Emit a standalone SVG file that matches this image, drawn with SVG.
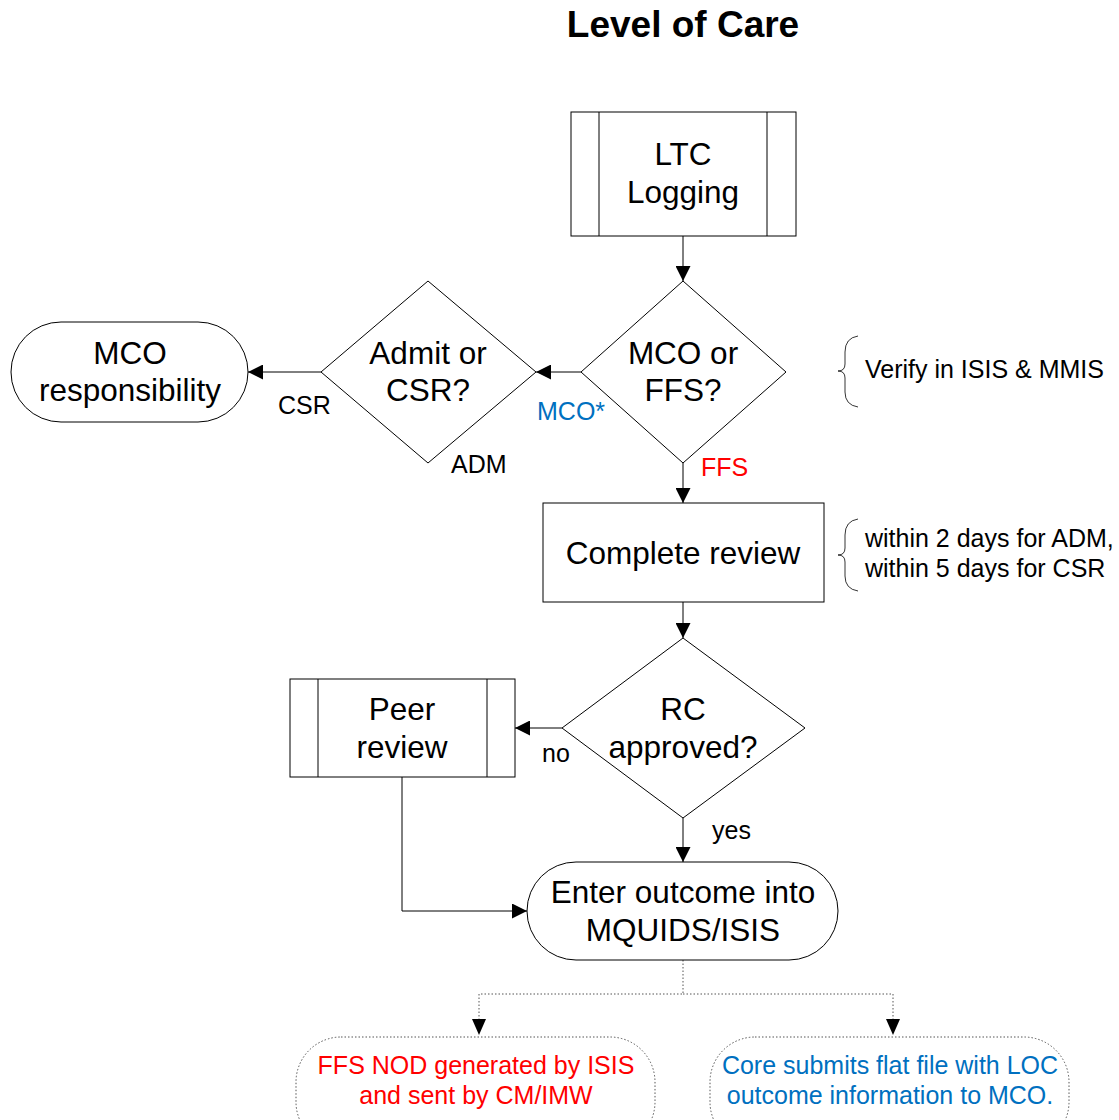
<svg xmlns="http://www.w3.org/2000/svg" width="1119" height="1120" viewBox="0 0 1119 1120">
<defs>
<marker id="ah" viewBox="0 0 15 15" refX="15" refY="7.5" markerWidth="15" markerHeight="15" markerUnits="userSpaceOnUse" orient="auto">
<path d="M0,0 L15,7.5 L0,15 Z" fill="#000"/>
</marker>
</defs>
<style>
.s{fill:#fff;stroke:#000;stroke-width:1}
.d{fill:#fff;stroke:#555;stroke-width:1;stroke-dasharray:1.5 2}
.t{font-family:"Liberation Sans",Arial,sans-serif;font-size:31.5px;fill:#000;text-anchor:middle}
.l{font-family:"Liberation Sans",Arial,sans-serif;font-size:25px;fill:#000}
.c{fill:none;stroke:#000;stroke-width:1}
.cd{fill:none;stroke:#555;stroke-width:1;stroke-dasharray:1.5 2}
.br{fill:none;stroke:#000;stroke-width:0.8}
</style>
<rect width="1119" height="1120" fill="#fff"/>
<text x="683" y="37" font-family="Liberation Sans,Arial,sans-serif" font-size="37" font-weight="bold" text-anchor="middle">Level of Care</text>

<g id="connectors">
<line class="c" x1="683" y1="236" x2="683" y2="281" marker-end="url(#ah)"/>
<line class="c" x1="581" y1="372" x2="536" y2="372" marker-end="url(#ah)"/>
<line class="c" x1="321" y1="372" x2="248" y2="372" marker-end="url(#ah)"/>
<line class="c" x1="683" y1="463" x2="683" y2="503" marker-end="url(#ah)"/>
<line class="c" x1="683" y1="602" x2="683" y2="638" marker-end="url(#ah)"/>
<line class="c" x1="562" y1="728" x2="515" y2="728" marker-end="url(#ah)"/>
<line class="c" x1="683" y1="818" x2="683" y2="862" marker-end="url(#ah)"/>
<polyline class="c" points="402,777 402,911 527,911" marker-end="url(#ah)"/>
<polyline class="cd" points="683,960 683,994 479,994 479,1020"/>
<polyline class="cd" points="683,994 893,994 893,1020"/>
<path d="M472,1019 L486,1019 L479,1035 Z" fill="#000"/>
<path d="M886,1019 L900,1019 L893,1035 Z" fill="#000"/>
<text class="l" x="278" y="414">CSR</text>
<text class="l" x="537" y="420" style="fill:#0070C0">MCO*</text>
<text class="l" x="451" y="473">ADM</text>
<text class="l" x="701" y="476" style="fill:#FF0000">FFS</text>
<text class="l" x="542" y="762">no</text>
<text class="l" x="712" y="839">yes</text>
</g>

<g id="ltc">
<rect class="s" x="571" y="112" width="225" height="124"/>
<line class="c" x1="599" y1="112" x2="599" y2="236"/>
<line class="c" x1="767" y1="112" x2="767" y2="236"/>
<text class="t" x="683" y="165">LTC</text>
<text class="t" x="683" y="203">Logging</text>
</g>

<g id="mcoffs">
<polygon class="s" points="683,281 786,372 683,463 581,372"/>
<text class="t" x="683" y="364">MCO or</text>
<text class="t" x="683" y="401">FFS?</text>
</g>

<g id="admit">
<polygon class="s" points="428,281 536,372 428,463 321,372"/>
<text class="t" x="428" y="364">Admit or</text>
<text class="t" x="428" y="401">CSR?</text>
</g>

<g id="mcoresp">
<rect class="s" x="11" y="322" width="237" height="100" rx="50" ry="50"/>
<text class="t" x="130" y="364">MCO</text>
<text class="t" x="130" y="401">responsibility</text>
</g>

<g id="verify">
<path class="br" d="M858,336 Q845,338 845,352 L845,364 Q845,371 838,371 Q845,371 845,378 L845,392 Q845,405 858,407"/>
<text class="l" x="865" y="378">Verify in ISIS &amp; MMIS</text>
</g>

<g id="complete">
<rect class="s" x="543" y="503" width="281" height="99"/>
<text class="t" x="683" y="564">Complete review</text>
</g>

<g id="within">
<path class="br" d="M858,519 Q845,521 845,535 L845,548 Q845,555 838,555 Q845,555 845,562 L845,576 Q845,589 858,591"/>
<text class="l" x="865" y="547">within 2 days for ADM,</text>
<text class="l" x="865" y="577">within 5 days for CSR</text>
</g>

<g id="rc">
<polygon class="s" points="683,638 805,728 683,818 562,728"/>
<text class="t" x="683" y="720">RC</text>
<text class="t" x="683" y="758">approved?</text>
</g>

<g id="peer">
<rect class="s" x="290" y="679" width="225" height="98"/>
<line class="c" x1="318" y1="679" x2="318" y2="777"/>
<line class="c" x1="487" y1="679" x2="487" y2="777"/>
<text class="t" x="402" y="720">Peer</text>
<text class="t" x="402" y="758">review</text>
</g>

<g id="enter">
<rect class="s" x="527" y="862" width="311" height="98" rx="49" ry="49"/>
<text class="t" x="683" y="903">Enter outcome into</text>
<text class="t" x="683" y="941">MQUIDS/ISIS</text>
</g>

<g id="ffsnod">
<rect class="d" x="296" y="1037" width="359" height="110" rx="45" ry="45"/>
<text class="l" x="476" y="1074" text-anchor="middle" style="fill:#FF0000">FFS NOD generated by ISIS</text>
<text class="l" x="476" y="1104" text-anchor="middle" style="fill:#FF0000">and sent by CM/IMW</text>
</g>

<g id="core">
<rect class="d" x="710" y="1037" width="359" height="110" rx="45" ry="45"/>
<text class="l" x="890" y="1074" text-anchor="middle" style="fill:#0070C0">Core submits flat file with LOC</text>
<text class="l" x="890" y="1104" text-anchor="middle" style="fill:#0070C0">outcome information to MCO.</text>
</g>
</svg>
